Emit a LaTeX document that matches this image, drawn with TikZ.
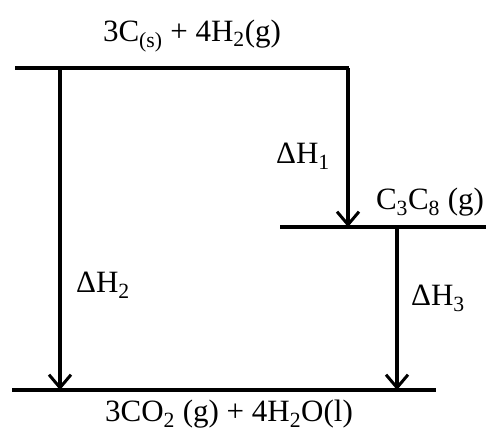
\documentclass[tikz,border=0pt]{standalone}
\usepackage{fontspec}
\setmainfont{Liberation Serif}
\usetikzlibrary{arrows.meta}

\tikzset{
  level/.style={line width=4pt},
  lab/.style={font=\fontsize{31}{34}\selectfont},
}

\begin{document}
\begin{tikzpicture}[x=1pt,y=-1pt,line width=3.2pt,>={Straight Barb[length=13pt,width=22pt,line width=3pt]}]
  \useasboundingbox (0,0) rectangle (486,436);

  % energy levels
  \coordinate (topL) at (15,68);
  \coordinate (topR) at (349,68);
  \coordinate (midL) at (280,227);
  \coordinate (midR) at (486,227);
  \coordinate (botL) at (12,390);
  \coordinate (botR) at (436,390);
  \draw[level] (topL) -- (topR);
  \draw[level] (midL) -- (midR);
  \draw[level] (botL) -- (botR);

  % species
  \node[lab] (react) at (192,36) {3C\textsubscript{(s)} + 4H\textsubscript{2}(g)};
  \node[lab] (inter) at (430,202) {C\textsubscript{3}C\textsubscript{8} (g)};
  \node[lab] (prod) at (229,414) {3CO\textsubscript{2} (g) + 4H\textsubscript{2}O(l)};

  % steps
  \coordinate (a1) at (348,68);
  \coordinate (b1) at (348,227);
  \coordinate (a2) at (60,68);
  \coordinate (b2) at (60,390);
  \coordinate (a3) at (397,227);
  \coordinate (b3) at (397,390);
  \draw[->] (a1) -- (b1);
  \draw[->] (a2) -- (b2);
  \draw[->] (a3) -- (b3);

  \node[lab] (dh1) at (303,156) {ΔH\textsubscript{1}};
  \node[lab] (dh2) at (103,285) {ΔH\textsubscript{2}};
  \node[lab] (dh3) at (438,298) {ΔH\textsubscript{3}};
\end{tikzpicture}
\end{document}
